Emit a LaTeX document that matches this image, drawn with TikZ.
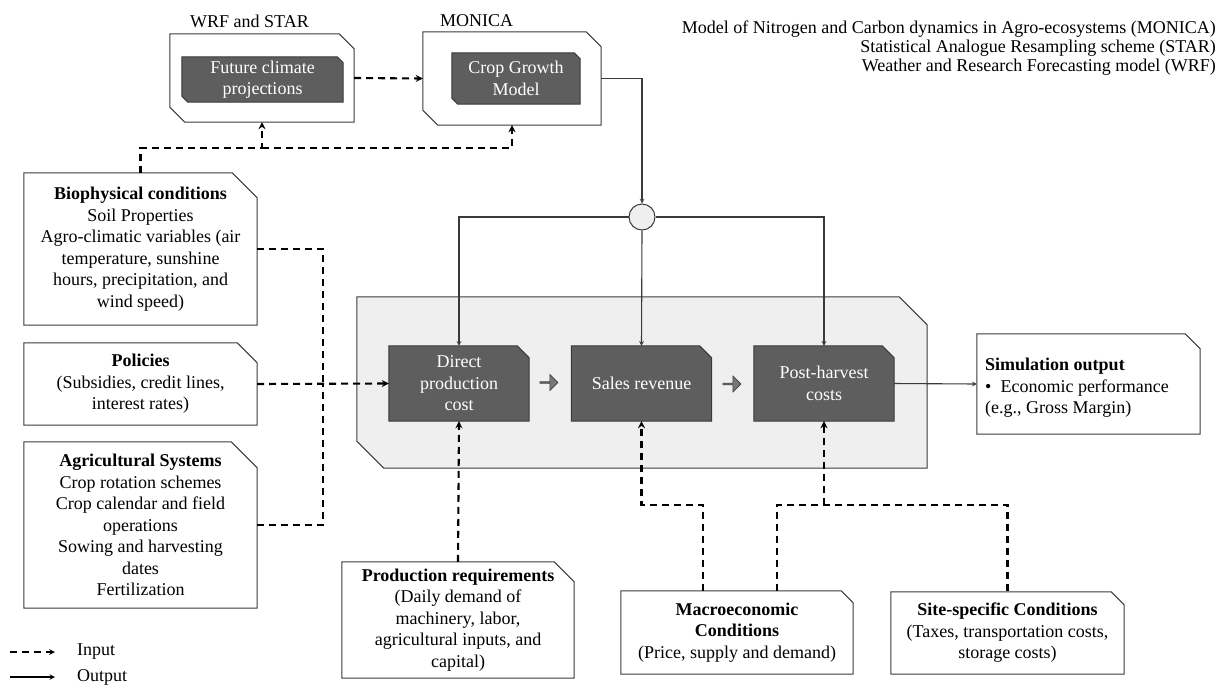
\documentclass[tikz,border=0pt]{standalone}
\usepackage{fontspec}
\setmainfont{Liberation Serif}
\usepackage{tikz}
\usetikzlibrary{arrows, positioning, shapes.arrows, backgrounds}
\definecolor{boxgray}{HTML}{5E5E5E}
\definecolor{panelgray}{HTML}{EFEFEF}
\definecolor{linegray}{HTML}{3A3A3A}
\tikzstyle{input}  = [line width=2.1pt, dash pattern=on 7pt off 5pt, ->, >=stealth]
\tikzstyle{output} = [line width=1.1pt, draw=linegray, ->, >=stealth]
\tikzstyle{frame}  = [rectangle, draw=none]
\tikzstyle{outline}= [draw=linegray, line width=1pt]
\tikzstyle{darkfill}=[draw=linegray, line width=1pt, fill=boxgray]
\tikzset{every node/.style={align=center, inner sep=0pt, font=\fontsize{18}{21.5}\selectfont}}
% box with a cut top-right corner (#3) and a cut bottom-left corner (#4)
\newcommand\cutbox[4][]{\path[#1] (#2.north west) -- ([xshift=-#3]#2.north east) -- ([yshift=-#3]#2.north east)
  -- (#2.south east) -- ([xshift=#4]#2.south west) -- ([yshift=#4]#2.south west) -- cycle;}

\begin{document}
\begin{tikzpicture}[x=1pt, y=-1pt]
  \useasboundingbox (0,0) rectangle (1218,686);

  % Climate and crop models
  \node[anchor=west] (wrflbl) at (190,21) {WRF and STAR};
  \node[anchor=west] (monlbl) at (440,21) {MONICA};
  \node[frame, minimum width=184pt, minimum height=88pt] (wrf) at (262,78) {};
  \node[frame, text=white, minimum width=161pt, minimum height=45pt] (fcp) at (262.5,79.5) {Future climate\\projections};
  \node[frame, minimum width=178pt, minimum height=93pt] (mon) at (512,78.5) {};
  \node[frame, text=white, minimum width=128pt, minimum height=51pt] (cgm) at (516,78.5) {Crop Growth\\Model};
  \node[anchor=north east, align=right, font=\fontsize{18}{19}\selectfont] (acro) at (1216,21)
    {Model of Nitrogen and Carbon dynamics in Agro-ecosystems (MONICA)\\
     Statistical Analogue Resampling scheme (STAR)\\
     Weather and Research Forecasting model (WRF)};

  % Input boxes on the left
  \node[frame, minimum width=233pt, minimum height=152pt] (bio) at (140.5,249)
    {\textbf{Biophysical conditions}\\Soil Properties\\Agro-climatic variables (air\\temperature, sunshine\\hours, precipitation, and\\wind speed)};
  \node[frame, minimum width=233pt, minimum height=82pt] (pol) at (140.5,384)
    {\textbf{Policies}\\(Subsidies, credit lines,\\interest rates)};
  \node[frame, minimum width=233pt, minimum height=166pt] (agr) at (140.5,525)
    {\textbf{Agricultural Systems}\\Crop rotation schemes\\Crop calendar and field\\operations\\Sowing and harvesting\\dates\\Fertilization};

  % Economic model panel
  \node[frame, minimum width=570pt, minimum height=171pt] (panel) at (642,382.5) {};
  \node[frame, text=white, minimum width=140pt, minimum height=75pt] (dpc) at (459,383.5) {Direct\\production\\cost};
  \node[frame, text=white, minimum width=140pt, minimum height=75pt] (sal) at (641.5,383.5) {Sales revenue};
  \node[frame, text=white, minimum width=140pt, minimum height=75pt] (phc) at (824,383.5) {Post-harvest\\costs};
  \node[single arrow, draw=linegray, fill=boxgray!85, line width=0.7pt, minimum height=18pt, minimum width=16pt, single arrow head extend=3.5pt] (fa1) at (548.5,382.5) {};
  \node[single arrow, draw=linegray, fill=boxgray!85, line width=0.7pt, minimum height=18pt, minimum width=16pt, single arrow head extend=3.5pt] (fa2) at (731.5,384) {};
  \node[circle, draw=linegray, fill=panelgray, line width=1pt, minimum size=26pt] (hub) at (642,217) {};

  % Output and bottom inputs
  \node[frame, minimum width=223pt, minimum height=100pt] (sim) at (1088.5,384) {};
  \node[anchor=west, align=left] (simtxt) at (985,388)
    {\textbf{Simulation output}\\\textbullet\hspace{9pt}Economic performance\\(e.g., Gross Margin)};
  \node[frame, minimum width=232pt, minimum height=116pt] (prq) at (458,620)
    {\textbf{Production requirements}\\(Daily demand of\\machinery, labor,\\agricultural inputs, and\\capital)};
  \node[frame, minimum width=232pt, minimum height=83pt] (mac) at (737,632.5)
    {\textbf{Macroeconomic}\\\textbf{Conditions}\\(Price, supply and demand)};
  \node[frame, minimum width=233pt, minimum height=82pt] (sit) at (1007.5,633)
    {\textbf{Site-specific Conditions}\\(Taxes, transportation costs,\\storage costs)};

  % Box outlines
  \begin{scope}[on background layer]
    \cutbox[outline, fill=panelgray]{panel}{28pt}{27pt}
    \cutbox[outline]{wrf}{15pt}{15pt}
    \cutbox[outline]{mon}{15pt}{15pt}
    \cutbox[darkfill]{fcp}{6pt}{6pt}
    \cutbox[darkfill]{cgm}{6pt}{6pt}
    \cutbox[darkfill]{dpc}{12pt}{0pt}
    \cutbox[darkfill]{sal}{12pt}{0pt}
    \cutbox[darkfill]{phc}{12pt}{0pt}
    \cutbox[outline]{bio}{25pt}{0pt}
    \cutbox[outline]{pol}{20pt}{0pt}
    \cutbox[outline]{agr}{26pt}{0pt}
    \cutbox[outline]{sim}{15pt}{0pt}
    \cutbox[outline]{prq}{20pt}{0pt}
    \cutbox[outline]{mac}{12pt}{0pt}
    \cutbox[outline]{sit}{13pt}{0pt}
  \end{scope}

  % Legend
  \coordinate (lin1) at (10,652);  \coordinate (lin2) at (55,652);
  \coordinate (lout1) at (10,677); \coordinate (lout2) at (55,677);
  \node[anchor=west] (linput) at (77,652) {Input};
  \node[anchor=west] (loutput) at (77,677) {Output};
  \draw[input, line width=1.6pt] (lin1) -- (lin2);
  \draw[output, line width=1.4pt, draw=black] (lout1) -- (lout2);

  % Input connectors
  \coordinate (jtop) at (262,148);
  \coordinate (bus) at (323,384);
  \coordinate (jsite) at (824,505);
  \draw[input] (wrf.east) -- (mon.west);
  \draw[input] (bio.north) |- (jtop) -- (wrf.south);
  \draw[input] (jtop) -| (mon.south);
  \draw[input, -] (bio.east) -| (bus);
  \draw[input, -] (agr.east) -| (bus);
  \draw[input] (pol.east) -- (dpc.west);
  \draw[input] (prq.north) -- (dpc.south);
  \draw[input] ([xshift=-34pt]mac.north) -- ++(0,-86) -| (sal.south);
  \draw[input, -] ([xshift=40pt]mac.north) -- ++(0,-86) -| (sit.north);
  \draw[input] (jsite) -- (phc.south);

  % Output connectors
  \draw[output] (mon.east) -| (hub.north);
  \draw[output] (hub.west) -| (dpc.north);
  \draw[output] (hub.south) -- (sal.north);
  \draw[output] (hub.east) -| (phc.north);
  \draw[output] (phc.east) -- (sim.west);
\end{tikzpicture}
\end{document}
